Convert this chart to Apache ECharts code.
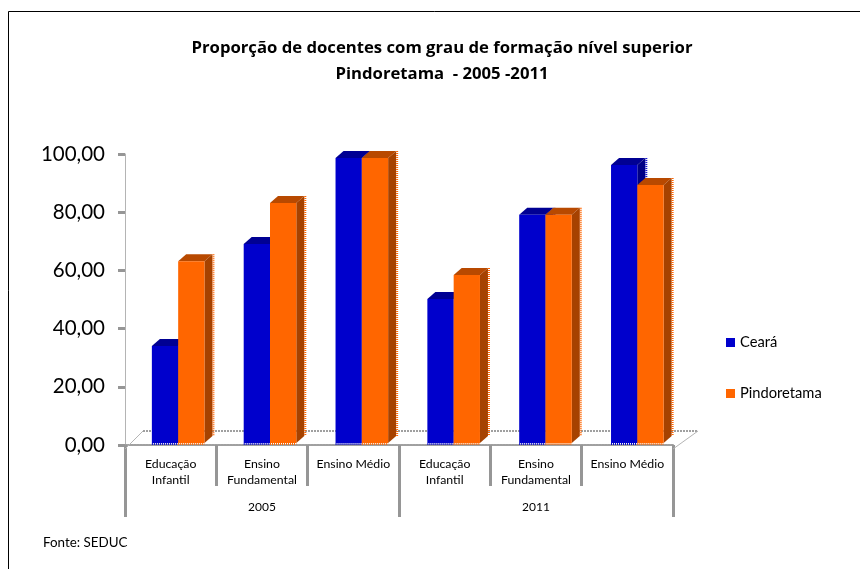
<!DOCTYPE html>
<html><head><meta charset="utf-8">
<style>html,body{margin:0;padding:0;background:#fff}#c{width:860px;height:569px}</style>
<script src="https://cdn.jsdelivr.net/npm/echarts@6/dist/echarts.min.js"></script>
</head><body><div id="c"></div>
<script>
const categories = ['Educação\nInfantil','Ensino\nFundamental','Ensino Médio','Educação\nInfantil','Ensino\nFundamental','Ensino Médio'];
const years = ['2005','2011'];
const ceara = [33.3,68.4,97.9,49.5,78.4,95.5];
const pindoretama = [62.5,82.5,97.9,57.7,78.4,88.7];

const FONT = 'Lato, "Open Sans", sans-serif';
const DX = 8, DY = 7, BW = 26.3, BASE = -2;
function shade(c,f){const n=parseInt(c.slice(1),16);return '#'+[n>>16,(n>>8)&255,n&255].map(v=>Math.round(v*f).toString(16).padStart(2,'0')).join('');}
function render(side,color){
  return function(params,api){
    const i=api.value(0);
    const p0=api.coord([i,0]), p1=api.coord([i,api.value(1)]);
    const l = p0[0]+7.5+0.5*i+(side===0?-BW:0), r=l+BW;
    const b = p0[1]+BASE, t = p1[1]+BASE;
    const dash={stroke:color,lineWidth:2,lineDash:[1,1],fill:null};
    return {type:'group',children:[
      {type:'polygon',shape:{points:[[l,t],[r,t],[r+DX,t-DY],[l+DX,t-DY]]},style:{fill:shade(color,0.72)}},
      {type:'polygon',shape:{points:[[r,t],[r+DX,t-DY],[r+DX,b-DY],[r,b]]},style:{fill:shade(color,0.65)}},
      {type:'rect',shape:{x:l,y:t,width:BW,height:b-t},style:{fill:color}},
      {type:'line',shape:{x1:l,y1:b+1,x2:r,y2:b+1},style:dash},
      {type:'line',shape:{x1:r+DX+1,y1:t-DY,x2:r+DX+1,y2:b-DY},style:dash}
    ]};
  };
}
function renderFloor(params,api){
  const cs=params.coordSys;
  const o=api.coord([0,0]);
  const L=cs.x, R=cs.x+cs.width, y=o[1]+4, back=y-18, d=25;
  const ln={stroke:'#a0a0a0',lineWidth:2,lineDash:[2,1],fill:null};
  const thin={stroke:'#b4b4b4',lineWidth:1,fill:null};
  return {type:'group',children:[
    {type:'line',shape:{x1:L+18,y1:back,x2:R+d,y2:back},style:ln},
    {type:'line',shape:{x1:L,y1:y,x2:L+18,y2:back},style:thin},
    {type:'line',shape:{x1:R,y1:y,x2:R+d,y2:back},style:thin}
  ]};
}
const chart = echarts.init(document.getElementById('c'),null,{renderer:'canvas'});
const dotted = {color:'#a0a0a0',width:2,type:[2,1]};
chart.setOption({
  animation:false,
  backgroundColor:'#fff',
  title:{left:437,top:30,textAlign:'center',text:'Proporção de docentes com grau de formação nível superior\nPindoretama  - 2005 -2011',
    textStyle:{fontFamily:'"Open Sans", sans-serif',fontSize:16.7,fontWeight:'bold',color:'#000',lineHeight:26}},
  legend:{orient:'vertical',left:721,top:330,itemWidth:9,itemHeight:9,itemGap:36,icon:'rect',
    data:['Ceará','Pindoretama'],textStyle:{fontFamily:FONT,fontSize:14.7,color:'#000',padding:[0,0,0,0]}},
  grid:{left:125,top:154,width:548,height:291},
  xAxis:[
    {type:'category',data:categories,position:'bottom',offset:4,
      axisLine:{lineStyle:dotted},
      axisTick:{show:true,length:41,inside:false,lineStyle:{color:'#969696',width:3}},
      axisLabel:{fontFamily:FONT,fontSize:12.3,color:'#000',margin:7,lineHeight:16,interval:0},
      splitLine:{show:false}},
    {type:'category',data:years,position:'bottom',offset:4,
      axisLine:{show:false},
      axisTick:{show:true,length:68,lineStyle:{color:'#969696',width:3}},
      axisLabel:{fontFamily:FONT,fontSize:12,color:'#000',margin:52,interval:0},
      splitLine:{show:false}}
  ],
  yAxis:{type:'value',min:0,max:100,interval:20,
    axisLine:{show:true,lineStyle:{color:'#b4b4b4',width:1}},
    axisTick:{show:true,length:7,lineStyle:{color:'#969696',width:3}},
    splitLine:{show:false},
    axisLabel:{fontFamily:FONT,fontSize:20.5,color:'#000',margin:20,padding:[3,0,0,0],formatter:v=>v.toFixed(2).replace('.',',')}},
  series:[
    {name:'floor',type:'custom',renderItem:renderFloor,encode:{x:0,y:1},data:[[0,0]],z:1,silent:true},
    {name:'Ceará',type:'custom',xAxisIndex:0,itemStyle:{color:'#0000cc'},renderItem:render(0,'#0000cc'),encode:{x:0,y:1},data:ceara.map((v,i)=>[i,v]),z:3},
    {name:'Pindoretama',type:'custom',xAxisIndex:0,itemStyle:{color:'#ff6600'},renderItem:render(1,'#ff6600'),encode:{x:0,y:1},data:pindoretama.map((v,i)=>[i,v]),z:4}
  ],
  graphic:[
    {type:'polyline',z:-1,shape:{points:[[8.5,569],[8.5,11.5],[860,11.5]]},style:{fill:null,stroke:'#000',lineWidth:1}},
    {type:'text',left:43,top:536,style:{text:'Fonte: SEDUC',fontFamily:FONT,fontSize:13.4,fill:'#000'}}
  ]
});
</script></body></html>
